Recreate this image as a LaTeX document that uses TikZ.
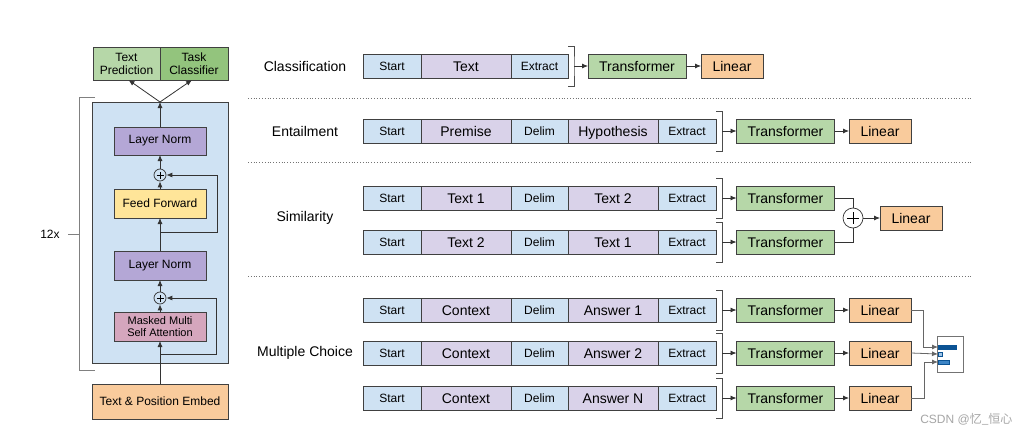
\documentclass[tikz,border=0pt]{standalone}
\usepackage{fontspec}
\setmainfont{Liberation Sans}
\newfontfamily\cjkfont{Noto Sans CJK SC}
\usetikzlibrary{arrows.meta,calc,positioning}

\definecolor{tokBlue}{HTML}{CFE2F3}
\definecolor{seqPurple}{HTML}{D9D2E9}
\definecolor{normPurple}{HTML}{B4A7D6}
\definecolor{ffYellow}{HTML}{FFE599}
\definecolor{attnPink}{HTML}{D5A6BD}
\definecolor{embOrange}{HTML}{F9CB9C}
\definecolor{trGreen}{HTML}{B6D7A8}
\definecolor{clsGreen}{HTML}{93C47D}
\definecolor{barDark}{HTML}{0B5394}
\definecolor{barMid}{HTML}{3D85C6}
\definecolor{barLight}{HTML}{9FC5E8}

% one input sequence: Start | a | Delim | b | Extract, with its bracket
\newcommand{\taskrow}[4]{%
  \node[tok, minimum width=58pt] (#1start) at (363,#2) {Start};
  \node[seq, minimum width=90pt, right=0pt of #1start] (#1a) {#3};
  \node[tok, minimum width=57pt, right=0pt of #1a] (#1delim) {Delim};
  \node[seq, minimum width=90pt, right=0pt of #1delim] (#1b) {#4};
  \node[tok, minimum width=58pt, right=0pt of #1b] (#1extract) {Extract};
  \coordinate (#1brk) at ($(#1extract.east)+(6,0)$);
  \draw[brace] ($(#1extract.east)+(0,-20)$) -| (#1brk) |- ($(#1extract.east)+(0,20)$);
}

\begin{document}
\begin{tikzpicture}[x=1pt,y=-1pt,
  box/.style={draw=black!75, line width=0.7pt, inner sep=0pt, outer sep=0pt, align=center},
  tok/.style={box, text height=8.6pt, text depth=0pt, fill=tokBlue, minimum height=24pt, anchor=west, font=\fontsize{12}{13}\selectfont},
  seq/.style={box, text height=10pt, text depth=0pt, fill=seqPurple, minimum height=24pt, anchor=west, font=\fontsize{14}{15}\selectfont},
  trf/.style={box, text height=10pt, text depth=0pt, fill=trGreen, minimum width=98pt, minimum height=24pt, font=\fontsize{14}{15}\selectfont},
  lin/.style={box, text height=10pt, text depth=0pt, fill=embOrange, minimum width=62pt, minimum height=24pt, font=\fontsize{14}{15}\selectfont},
  layer/.style={box, minimum width=92pt, minimum height=28pt, font=\fontsize{12}{13.5}\selectfont},
  plus/.style={circle, draw=black!80, line width=0.7pt, inner sep=0pt, minimum size=#1},
  task/.style={font=\fontsize{14}{16}\selectfont},
  link/.style={-{Latex[length=6pt,width=5pt]}, line width=0.8pt, draw=black!80},
  wire/.style={line width=0.8pt, draw=black!80},
  brace/.style={line width=0.7pt, draw=black!70},
  sep/.style={draw=black!55, line width=0.8pt, dash pattern=on 0.8pt off 2pt}]

\path[fill=white, use as bounding box] (0,0) rectangle (1022,436);

% ---- left: the transformer block
\node[box, fill=tokBlue, minimum width=136pt, minimum height=261pt] (block) at (160,232.5) {};
\node[box, fill=trGreen, minimum width=67pt, minimum height=33pt, font=\fontsize{12}{13}\selectfont] (pred) at (126.5,63.5) {Text\\Prediction};
\node[box, fill=clsGreen, minimum width=68pt, minimum height=33pt, font=\fontsize{12}{13}\selectfont] (taskcls) at (194,63.5) {Task\\Classifier};

\node[layer, fill=normPurple] (norm2) at (160,141) {Layer Norm};
\node[plus=12pt] (add2) at (160,175) {};
\draw[line width=0.7pt] ($(add2)+(-3.5,0)$) -- ($(add2)+(3.5,0)$) ($(add2)+(0,-3.5)$) -- ($(add2)+(0,3.5)$);
\node[layer, fill=ffYellow, minimum height=29pt] (ff) at (160,203.5) {Feed Forward};
\node[layer, fill=normPurple, minimum height=29pt] (norm1) at (160,265.5) {Layer Norm};
\node[plus=12pt] (add1) at (160,298) {};
\draw[line width=0.7pt] ($(add1)+(-3.5,0)$) -- ($(add1)+(3.5,0)$) ($(add1)+(0,-3.5)$) -- ($(add1)+(0,3.5)$);
\node[layer, fill=attnPink, minimum height=29pt, font=\fontsize{11}{12.5}\selectfont] (attn) at (160,326.5) {Masked Multi\\Self Attention};
\node[box, fill=embOrange, minimum width=136pt, minimum height=35pt, font=\fontsize{12}{13.5}\selectfont] (embed) at (160,401.5) {Text \& Position Embed};

\draw[link] (embed.north) -- (attn.south);
\draw[link] (attn.north) -- (add1.south);
\draw[link] (add1.north) -- (norm1.south);
\draw[link] (norm1.north) -- (ff.south);
\draw[link] (ff.north) -- (add2.south);
\draw[link] (add2.north) -- (norm2.south);
\draw[link] (norm2.north) -- (block.north);
\coordinate (fork) at (block.north);
\draw[link] (fork) -- ($(pred.south)+(2,0)$);
\draw[link] (fork) -- ($(taskcls.south)+(-2,0)$);

% residual paths
\coordinate (res1) at (160,354);
\coordinate (res2) at (160,232);
\draw[link] (res1) -- ++(56,0) |- (add1.east);
\draw[link] (res2) -- ++(57,0) |- (add2.east);

% 12x bracket
\draw[draw=black!50, line width=0.8pt] (95,97) -- (79,97) -- (79,370) -- (95,370);
\coordinate (rep) at (79,234);
\node[font=\fontsize{12}{13}\selectfont] (times) at (50,234) {12x};
\draw[draw=black!50, line width=0.8pt] (rep) -- ++(-11,0);

% ---- right: tasks
\node[task] (lcls) at (305,66) {Classification};
\node[task] (lent) at (305,131) {Entailment};
\node[task] (lsim) at (305,218) {Similarity};
\node[task] (lmc) at (305,353) {Multiple Choice};

\draw[sep] (248,98) -- (972,98);
\draw[sep] (248,162) -- (972,162);
\draw[sep] (248,276) -- (972,276);

% classification
\node[tok, minimum width=58pt] (clsstart) at (363,66) {Start};
\node[seq, minimum width=90pt, right=0pt of clsstart] (clstext) {Text};
\node[tok, minimum width=57pt, right=0pt of clstext] (clsextract) {Extract};
\coordinate (clsbrk) at ($(clsextract.east)+(6,0)$);
\draw[brace] ($(clsextract.east)+(0,-20)$) -| (clsbrk) |- ($(clsextract.east)+(0,20)$);
\node[trf] (clstr) at (637,66) {Transformer};
\node[lin] (clslin) at (732,66) {Linear};
\draw[link] (clsbrk) -- (clstr.west);
\draw[link] (clstr.east) -- (clslin.west);

% entailment
\taskrow{ent}{131}{Premise}{Hypothesis}
\node[trf] (enttr) at (785.5,131) {Transformer};
\node[lin] (entlin) at (880,131) {Linear};
\draw[link] (entbrk) -- (enttr.west);
\draw[link] (enttr.east) -- (entlin.west);

% similarity
\taskrow{simA}{198}{Text 1}{Text 2}
\taskrow{simB}{242}{Text 2}{Text 1}
\node[trf] (simAtr) at (785.5,198) {Transformer};
\node[trf] (simBtr) at (785.5,242) {Transformer};
\node[plus=20pt] (simadd) at (853,218) {};
\draw[line width=0.8pt] ($(simadd)+(-6,0)$) -- ($(simadd)+(6,0)$) ($(simadd)+(0,-6)$) -- ($(simadd)+(0,6)$);
\node[lin] (simlin) at (911,218) {Linear};
\draw[link] (simAbrk) -- (simAtr.west);
\draw[link] (simBbrk) -- (simBtr.west);
\draw[wire] (simAtr.east) -| (simadd.north);
\draw[wire] (simBtr.east) -| (simadd.south);
\draw[link] (simadd.east) -- (simlin.west);

% multiple choice
\taskrow{mcA}{310}{Context}{Answer 1}
\taskrow{mcB}{353}{Context}{Answer 2}
\taskrow{mcC}{398}{Context}{Answer N}
\foreach \r/\y in {mcA/310, mcB/353, mcC/398} {
  \node[trf] (\r tr) at (785.5,\y) {Transformer};
  \node[lin] (\r lin) at (880,\y) {Linear};
  \draw[link] (\r brk) -- (\r tr.west);
  \draw[link] (\r tr.east) -- (\r lin.west);
}

% softmax over the choices
\node[draw=black!55, line width=0.8pt, minimum width=26pt, minimum height=36pt, inner sep=0pt] (scores) at (950,354.5) {};
\fill[barDark] (938,345) rectangle (957,349.5);
\filldraw[fill=barLight, draw=barDark, line width=0.5pt] (938.5,352) rectangle (942.5,356.5);
\fill[barMid, draw=barDark, line width=0.4pt] (938,360) rectangle (949,364.5);
\coordinate (inA) at (938,347);
\coordinate (inB) at (938,354);
\coordinate (inC) at (938,362);
\draw[link, draw=black!60] (mcAlin.east) -- ++(12,0) |- (inA);
\draw[link, draw=black!60] (mcBlin.east) -- (inB);
\draw[link, draw=black!60] (mcClin.east) -- ++(13,0) |- (inC);

\node[text=black!35, font=\fontsize{12}{13}\selectfont, anchor=east] (mark) at (1016,419) {CSDN @{\cjkfont 忆\_恒心}};
\end{tikzpicture}
\end{document}
